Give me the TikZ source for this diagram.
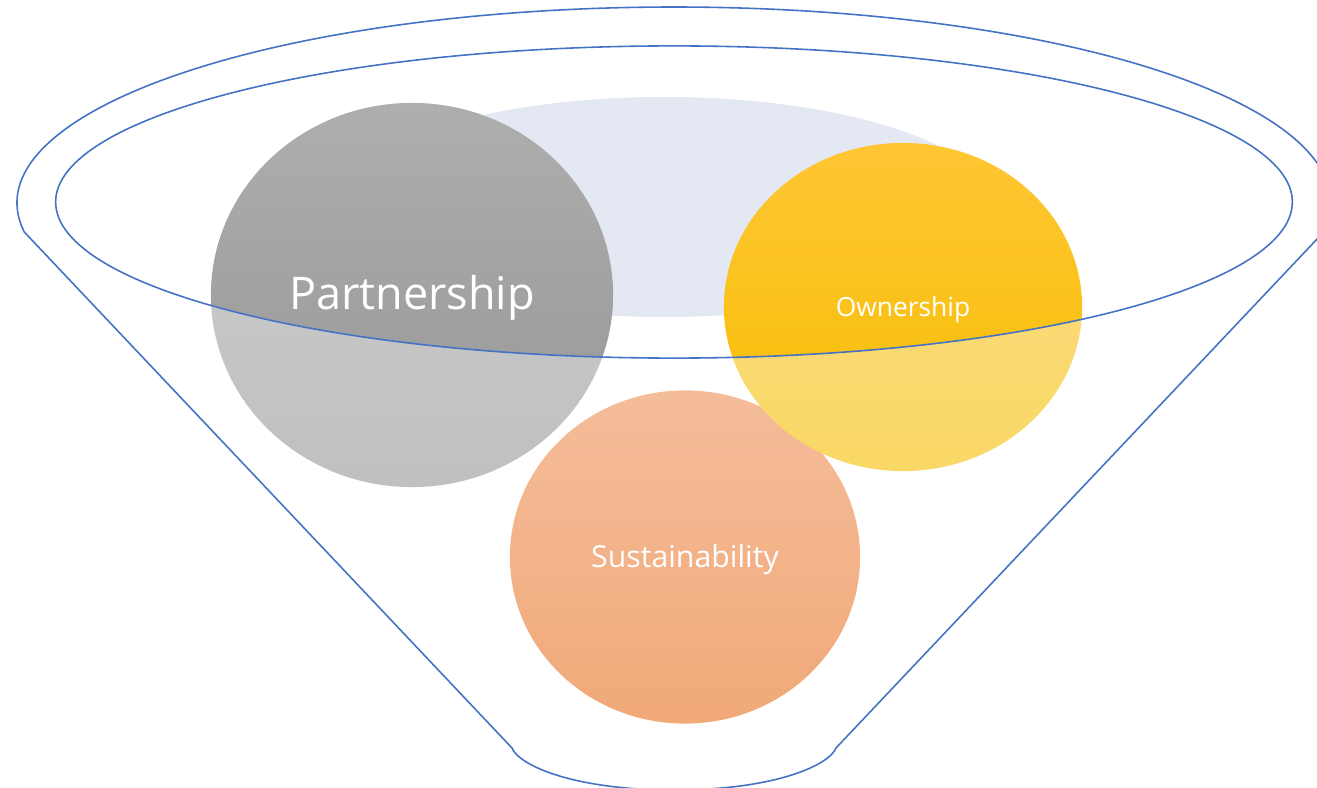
\documentclass[tikz,border=0pt]{standalone}
\usepackage{fontspec}
\setmainfont{Open Sans}
\usetikzlibrary{shapes.geometric}

\definecolor{rimblue}{HTML}{4472C4}
\definecolor{paleblue}{HTML}{E4E8F3}

\begin{document}
\begin{tikzpicture}[x=0.01cm, y=-0.01cm,
    rim/.style={draw=rimblue, line width=0.45pt},
    ball/.style={ellipse, inner sep=0pt},
    tag/.style={text=white, inner sep=0pt, yshift=-0.03cm}]

  \useasboundingbox (0,0) rectangle (1317,788);

  % Funnel points
  \path (674,203) ++(171.5:657 and 196) coordinate (lc);
  \path (674,203) ++(8.5:657 and 196) coordinate (rc);
  \coordinate (lb) at (512,748);
  \coordinate (rb) at (836,748);
  \coordinate (bot) at (674,790);

  % Opening
  \fill[paleblue] (664,207) ellipse [x radius=330, y radius=110];

  % Circles
  \node[ball, minimum width=3.50cm, minimum height=3.33cm, shade,
    top color={rgb,255:red,238;green,145;blue,88},
    bottom color={rgb,255:red,232;green,112;blue,30}] (sust) at (685,557) {};
  \node[ball, minimum width=4.02cm, minimum height=3.84cm, shade,
    top color={rgb,255:red,174;green,174;blue,174},
    bottom color={rgb,255:red,150;green,150;blue,150}] (part) at (412,295) {};
  \node[ball, minimum width=3.58cm, minimum height=3.28cm, shade,
    top color={rgb,255:red,255;green,198;blue,52},
    bottom color={rgb,255:red,245;green,190;blue,0}] (own) at (903,307) {};

  % Funnel body
  \fill[white, fill opacity=0.4, even odd rule]
    (lc) -- (lb) .. controls (518,764) and (570,790) .. (bot)
    .. controls (778,790) and (830,764) .. (rb) -- (rc)
    arc[start angle=368.5, end angle=171.5, x radius=657, y radius=196] -- cycle
    (674,202) ellipse [x radius=618, y radius=156];

  % Outline
  \draw[rim] (rc) -- (rb) .. controls (830,764) and (778,790) .. (bot)
    .. controls (570,790) and (518,764) .. (lb) -- (lc)
    arc[start angle=171.5, end angle=368.5, x radius=657, y radius=196];
  \node[ellipse, rim, inner sep=0pt, minimum width=12.36cm, minimum height=3.12cm] (mouth) at (674,202) {};

  % Labels
  \node[tag, font=\fontsize{12.8}{15}\selectfont] (parttext) at (part) {Partnership};
  \node[tag, font=\fontsize{7.5}{9}\selectfont] (owntext) at (own) {Ownership};
  \node[tag, font=\fontsize{8.6}{10}\selectfont] (susttext) at (sust) {Sustainability};

\end{tikzpicture}
\end{document}
